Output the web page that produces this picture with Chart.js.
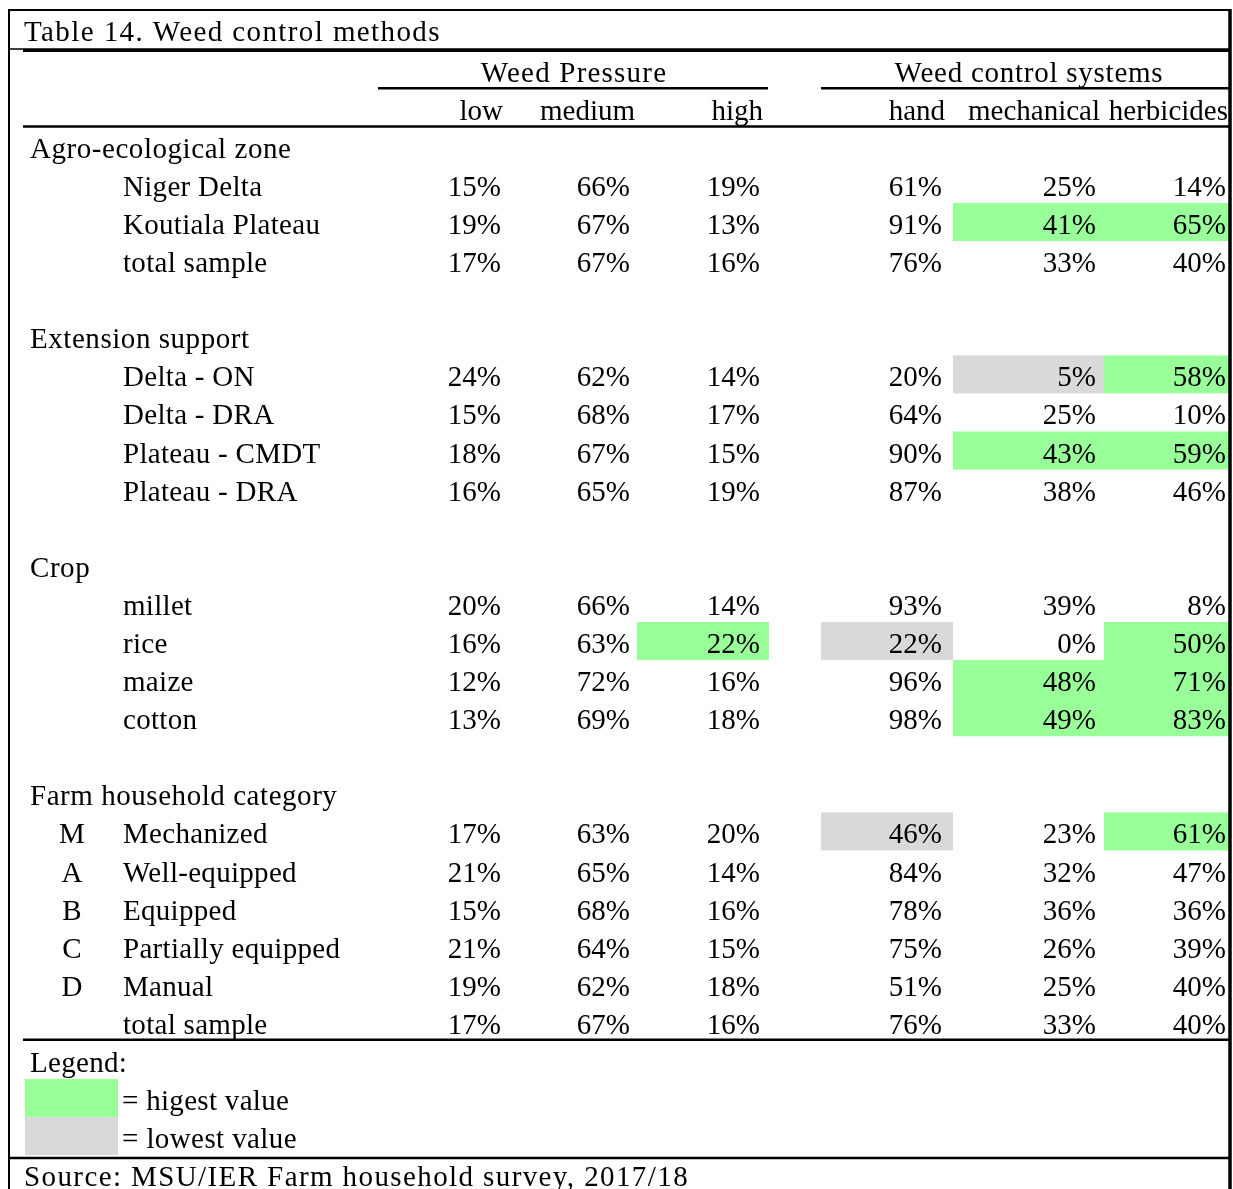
<!DOCTYPE html>
<html>
<head>
<meta charset="utf-8">
<script src="https://cdn.jsdelivr.net/npm/chart.js@4/dist/chart.umd.min.js"></script>
<style>
  html, body { margin: 0; padding: 0; background: #ffffff; }
  #wrap { width: 1233px; height: 1189px; }
</style>
</head>
<body>
<div id="wrap"><canvas id="c" width="1233" height="1189"></canvas></div>
<script>
// ---------------- DATA ----------------
const title = 'Table 14. Weed control methods';
const groupNames = ['Weed Pressure', 'Weed control systems'];
const columnNames = ['low', 'medium', 'high', 'hand', 'mechanical', 'herbicides'];

const sectionNames = ['Agro-ecological zone', 'Extension support', 'Crop', 'Farm household category'];
const zoneLabels = ['Niger Delta', 'Koutiala Plateau', 'total sample'];
const extensionLabels = ['Delta - ON', 'Delta - DRA', 'Plateau - CMDT', 'Plateau - DRA'];
const cropLabels = ['millet', 'rice', 'maize', 'cotton'];
const householdCodes = ['M', 'A', 'B', 'C', 'D', ''];
const householdLabels = ['Mechanized', 'Well-equipped', 'Equipped', 'Partially equipped', 'Manual', 'total sample'];

// values (%) in row order: zone rows, extension rows, crop rows, household rows
const lowPressure    = [15, 19, 17,   24, 15, 18, 16,   20, 16, 12, 13,   17, 21, 15, 21, 19, 17];
const mediumPressure = [66, 67, 67,   62, 68, 67, 65,   66, 63, 72, 69,   63, 65, 68, 64, 62, 67];
const highPressure   = [19, 13, 16,   14, 17, 15, 19,   14, 22, 16, 18,   20, 14, 16, 15, 18, 16];
const handControl    = [61, 91, 76,   20, 64, 90, 87,   93, 22, 96, 98,   46, 84, 78, 75, 51, 76];
const mechanicalCtrl = [25, 41, 33,    5, 25, 43, 38,   39,  0, 48, 49,   23, 32, 36, 26, 25, 33];
const herbicideCtrl  = [14, 65, 40,   58, 10, 59, 46,    8, 50, 71, 83,   61, 47, 36, 39, 40, 40];

// highlighted cells: [data row index, column index]
const highestCells = [[1, 4], [1, 5], [3, 5], [5, 4], [5, 5], [8, 2], [8, 5], [9, 4], [9, 5], [10, 4], [10, 5], [11, 5]];
const lowestCells  = [[3, 4], [8, 3], [11, 3]];

const legendTitle = 'Legend:';
const legendHigh = '= higest value';
const legendLow = '= lowest value';
const sourceNote = 'Source: MSU/IER Farm household survey, 2017/18';

// ---------------- LAYOUT (styling only) ----------------
const FONT = '29px "Liberation Serif", "Times New Roman", serif';
const GREEN = '#99ff99';
const GRAY = '#d9d9d9';
const colLeft  = [378, 505, 637, 821, 953, 1104];
const colRight = [505, 637, 769, 953, 1104, 1230];
const valueX   = [501, 630, 760, 942, 1096, 1226];
const headerX  = [503, 635, 763, 945, 1100, 1228];
const groupSpan = [[378, 768], [821, 1230]];
const groupCenter = [574, 1029];
const sectionX = 30, labelX = 123, codeX = 72;
const tableLeft = 23, boxLeft = 9, boxRight = 1230;

// build row positions (row units on the y scale)
const sectionRows = [];
const labelRows = [];   // {row, label, code}
(function buildRows() {
  const groups = [zoneLabels, extensionLabels, cropLabels, householdLabels];
  let r = 0;
  groups.forEach((g, gi) => {
    if (gi > 0) r += 1; // blank spacer row
    sectionRows.push(r);
    r += 1;
    g.forEach((lab, li) => {
      labelRows.push({ row: r, label: lab, code: gi === 3 ? householdCodes[li] : '' });
      r += 1;
    });
  });
})();

const valueColumns = [lowPressure, mediumPressure, highPressure, handControl, mechanicalCtrl, herbicideCtrl];

const datasets = valueColumns.map((vals, c) => ({
  label: columnNames[c],
  data: vals.map((v, i) => ({ x: valueX[c], y: labelRows[i].row, v: v })),
  pointRadius: 0,
  showLine: false
}));

function textAt(ctx, str, x, y, align, spacing) {
  ctx.save();
  ctx.font = FONT;
  ctx.fillStyle = '#000';
  ctx.textAlign = align || 'left';
  ctx.textBaseline = 'alphabetic';
  if (spacing) ctx.letterSpacing = spacing + 'px';
  ctx.fillText(str, x, y);
  ctx.restore();
}

const BASE = 12; // baseline offset from row centre (px)

const tablePlugin = {
  id: 'tablePlugin',
  beforeDatasetsDraw(chart) {
    const ctx = chart.ctx;
    const xs = chart.scales.x, ys = chart.scales.y;
    const X = v => xs.getPixelForValue(v);
    const Y = v => ys.getPixelForValue(v);
    // highlighted cells
    const cell = (list, color) => list.forEach(([ri, c]) => {
      const r = labelRows[ri].row;
      ctx.fillStyle = color;
      ctx.fillRect(X(colLeft[c]), Y(r - 0.5), X(colRight[c]) - X(colLeft[c]), Y(r + 0.5) - Y(r - 0.5));
    });
    cell(highestCells, GREEN);
    cell(lowestCells, GRAY);
    // legend swatches
    ctx.fillStyle = GREEN;
    ctx.fillRect(X(25), Y(24.5), X(118) - X(25), Y(25.5) - Y(24.5));
    ctx.fillStyle = GRAY;
    ctx.fillRect(X(25), Y(25.5), X(118) - X(25), Y(26.5) - Y(25.5));

    // rules
    const hline = (x0, x1, r, w) => {
      ctx.save();
      ctx.strokeStyle = '#000';
      ctx.lineWidth = w;
      ctx.beginPath();
      ctx.moveTo(X(x0), Y(r));
      ctx.lineTo(X(x1), Y(r));
      ctx.stroke();
      ctx.restore();
    };
    const vline = (x, r0, r1, w) => {
      ctx.save();
      ctx.strokeStyle = '#000';
      ctx.lineWidth = w;
      ctx.beginPath();
      ctx.moveTo(X(x), Y(r0));
      ctx.lineTo(X(x), Y(r1));
      ctx.stroke();
      ctx.restore();
    };
    hline(boxLeft, boxRight + 1, -3.565, 2);      // top border
    hline(boxLeft, boxRight, -2.54, 1.5);         // title box bottom
    hline(tableLeft, boxRight, -2.50, 3);         // table top rule
    hline(groupSpan[0][0], groupSpan[0][1], -1.51, 2.5);
    hline(groupSpan[1][0], groupSpan[1][1], -1.51, 2.5);
    hline(tableLeft, boxRight, -0.51, 2.5);       // under column headers
    hline(tableLeft, boxRight, 23.47, 2.5);       // table bottom
    hline(boxLeft, boxRight, 26.57, 2.5);         // legend box bottom
    vline(boxLeft, -3.59, 27.5, 2);               // left border
    vline(boxRight, -3.59, 27.5, 3.5);            // right border
  },
  afterDatasetsDraw(chart) {
    const ctx = chart.ctx;
    const xs = chart.scales.x, ys = chart.scales.y;
    const X = v => xs.getPixelForValue(v);
    const Y = v => ys.getPixelForValue(v) + BASE;
    // title
    textAt(ctx, title, X(24), Y(-3.07), 'left', 1.4);
    // group headers
    textAt(ctx, groupNames[0], X(groupCenter[0]), Y(-2), 'center', 1.2);
    textAt(ctx, groupNames[1], X(groupCenter[1]), Y(-2), 'center', 0.75);
    // column headers
    columnNames.forEach((n, c) => textAt(ctx, n, X(headerX[c]), Y(-1), 'right', 0));
    // section headers
    sectionNames.forEach((n, i) => textAt(ctx, n, X(sectionX), Y(sectionRows[i]), 'left', 0.55));
    // row labels
    labelRows.forEach(lr => {
      textAt(ctx, lr.label, X(labelX), Y(lr.row), 'left', 0.3);
      if (lr.code) textAt(ctx, lr.code, X(codeX), Y(lr.row), 'center', 0);
    });
    // values from dataset elements
    chart.data.datasets.forEach((ds, di) => {
      const meta = chart.getDatasetMeta(di);
      meta.data.forEach((el, i) => {
        textAt(ctx, ds.data[i].v + '%', el.x, el.y + BASE, 'right', 0);
      });
    });
    // legend
    textAt(ctx, legendTitle, X(30), Y(24), 'left', 0.3);
    textAt(ctx, legendHigh, X(122), Y(25), 'left', 0.3);
    textAt(ctx, legendLow, X(122), Y(26), 'left', 0.4);
    // source
    textAt(ctx, sourceNote, X(24), Y(27), 'left', 1.4);
  }
};

new Chart(document.getElementById('c'), {
  type: 'scatter',
  data: { datasets },
  options: {
    responsive: false,
    animation: false,
    layout: { padding: 0 },
    plugins: { legend: { display: false }, tooltip: { enabled: false }, title: { display: false } },
    scales: {
      x: { type: 'linear', display: false, min: 0, max: 1233 },
      y: { type: 'linear', display: false, reverse: true, min: -3.828, max: 27.387 }
    }
  },
  plugins: [tablePlugin]
});
</script>
</body>
</html>
